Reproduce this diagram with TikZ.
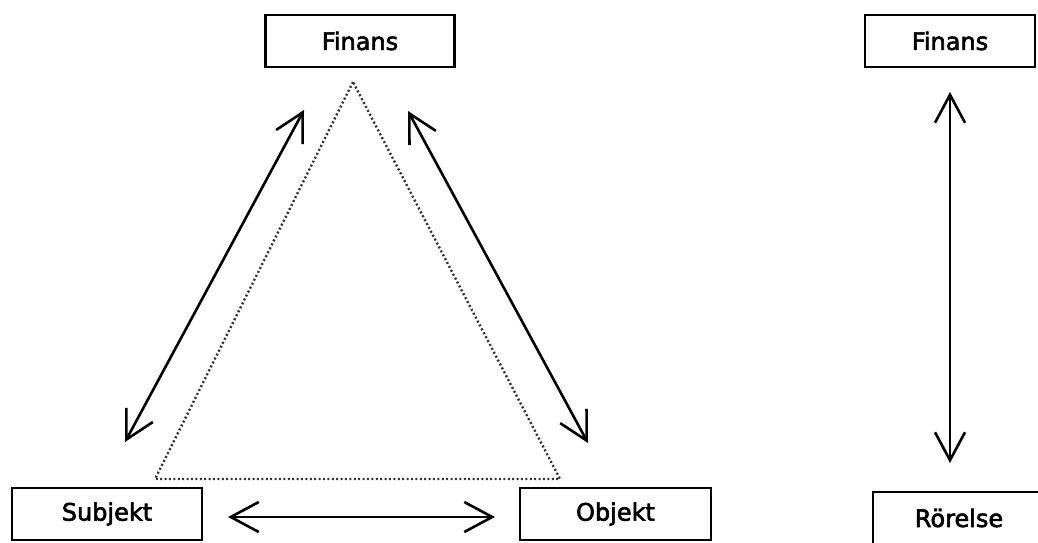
\documentclass[tikz,border=0pt]{standalone}
\usepackage{fontspec}
\setmainfont{DejaVu Sans}
\newfontfamily\boxfont[FakeBold=2.5]{DejaVu Sans}
\usetikzlibrary{arrows.meta}
\begin{document}
\begin{tikzpicture}[x=1pt,y=-1pt,
  box/.style={draw=black,line width=2.8pt,minimum height=52pt,inner sep=0pt,font=\boxfont\fontsize{24}{26}\selectfont,text=black},
  conn/.style={line width=2.6pt,{Straight Barb[length=28pt,width=30pt,line width=2.6pt]}-{Straight Barb[length=28pt,width=30pt,line width=2.6pt]}},
  dots/.style={line width=2.4pt,dash pattern=on 2pt off 2.4pt,black!80}]
\useasboundingbox (0,0) rectangle (1038,543);
\clip (0,0) rectangle (1038,543);
\node[box,minimum width=189pt] (fin1) at (360,41) {Finans};
\node[box,minimum width=170pt] (fin2) at (950,41) {Finans};
\node[box,minimum width=190pt] (sub) at (107,514) {Subjekt};
\node[box,minimum width=191pt] (obj) at (615.5,514) {Objekt};
\node[box,minimum width=190pt] (ror) at (968,518) {\hspace*{-18pt}Rörelse};
% dotted triangle
\coordinate (t1) at (353,82);
\coordinate (t2) at (155,479);
\coordinate (t3) at (560,479);
\draw[dots] (t1) -- (t2) -- (t3) -- cycle;
% arrows
\coordinate (a1) at (304,110);
\coordinate (a2) at (125,442);
\coordinate (b1) at (408,111);
\coordinate (b2) at (588,443);
\coordinate (c1) at (228,517);
\coordinate (c2) at (495,517);
\coordinate (d1) at (950,92);
\coordinate (d2) at (950,463);
\draw[conn] (a1) -- (a2);
\draw[conn] (b1) -- (b2);
\draw[conn] (c1) -- (c2);
\draw[conn] (d1) -- (d2);
\end{tikzpicture}
\end{document}
